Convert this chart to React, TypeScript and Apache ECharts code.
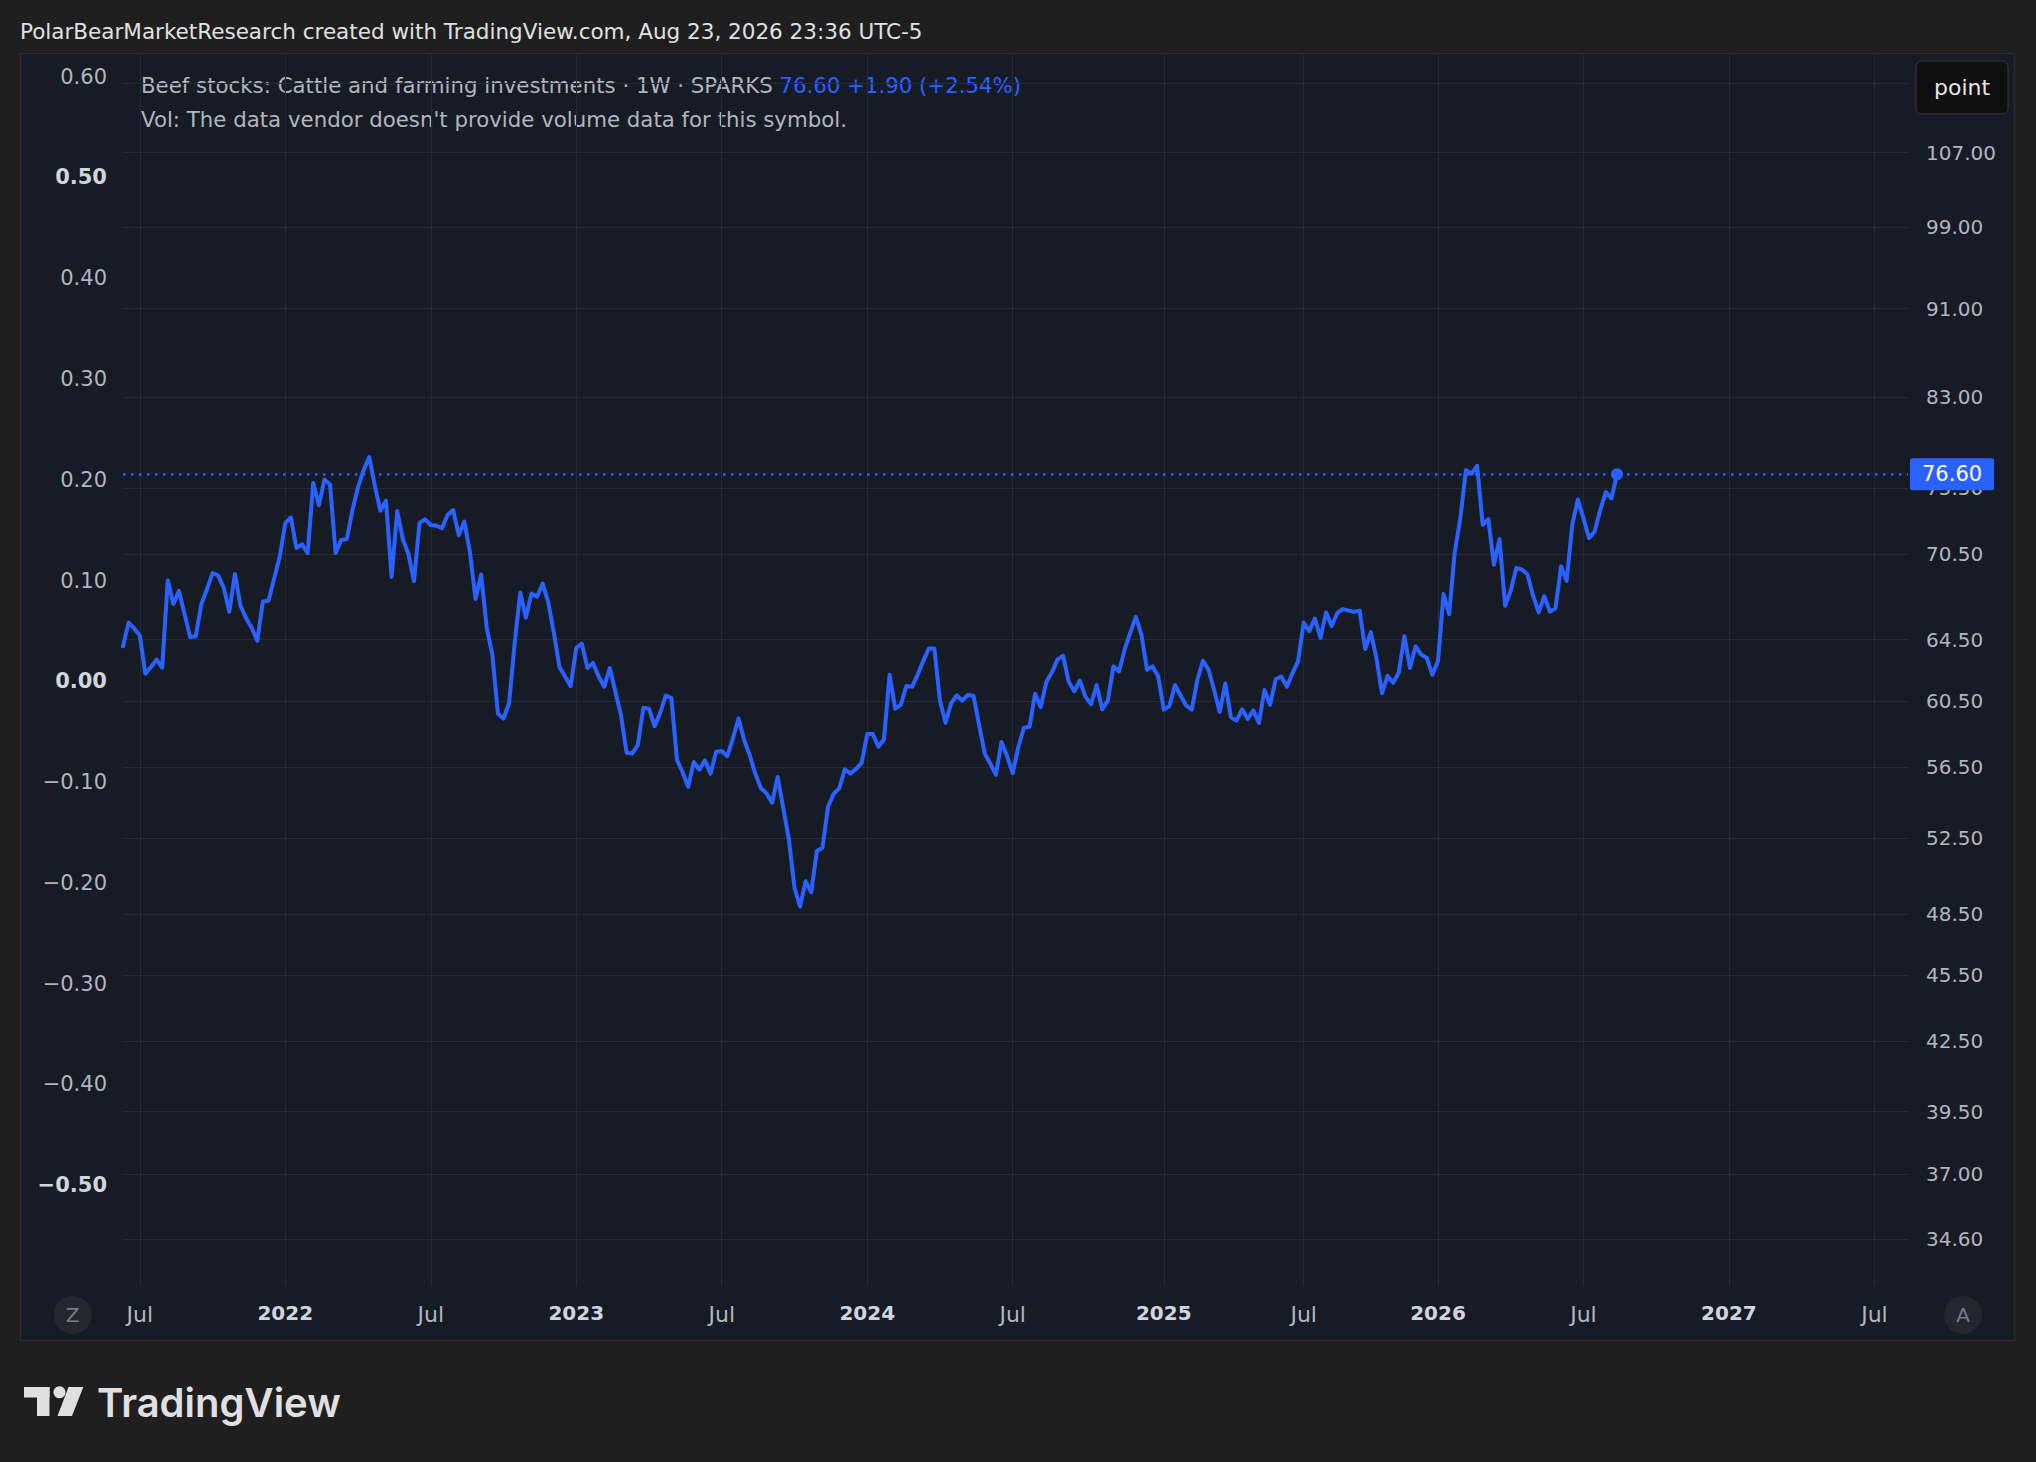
import React, { useEffect, useRef } from "react";
import * as echarts from "echarts";

// ---------- texts ----------
const HEADER = "PolarBearMarketResearch created with TradingView.com, Aug 23, 2026 23:36 UTC-5";
const TITLE = "Beef stocks: Cattle and farming investments · 1W · SPARKS";
const LAST_PRICE = "76.60";
const CHANGE = "+1.90 (+2.54%)";
const VOL_NOTE = "Vol: The data vendor doesn't provide volume data for this symbol.";

// ---------- time axis (weekly bars, TradingView style) ----------
const FIRST_WEEK = "2021-06-14";
const WEEK_COUNT = 320; // data bars + future bars shown to the right edge
const MISSING_WEEKS = ["2025-04-21", "2025-10-13", "2025-11-24"];

// ---------- weekly closes ----------
const prices = [
  64.06, 65.66, 65.26, 64.78, 62.26, 62.7, 63.18, 62.65, 68.62, 66.93,
  67.86, 66.24, 64.68, 64.73, 66.93, 67.97, 69.13, 68.95, 68.09, 66.4,
  69.06, 66.82, 65.96, 65.31, 64.43, 67.12, 67.16, 68.72, 70.29, 72.8,
  73.25, 70.95, 71.23, 70.58, 75.92, 74.19, 76.18, 75.79, 70.58, 71.54,
  71.61, 73.81, 75.58, 76.94, 77.99, 75.7, 73.76, 74.52, 68.85, 73.73,
  71.61, 70.53, 68.55, 72.85, 73.1, 72.67, 72.62, 72.42, 73.43, 73.81,
  71.91, 72.92, 70.65, 67.28, 69.02, 65.31, 63.51, 59.73, 59.43, 60.38,
  64.28, 67.74, 66.0, 67.67, 67.44, 68.37, 67.05, 64.96, 62.7, 62.08,
  61.46, 63.95, 64.24, 62.63, 62.96, 62.08, 61.42, 62.63, 61.09, 59.63,
  57.35, 57.31, 57.81, 60.1, 60.04, 58.96, 59.77, 60.87, 60.7, 56.94,
  56.2, 55.36, 56.8, 56.35, 56.9, 56.12, 57.41, 57.45, 57.15, 58.22,
  59.43, 58.12, 57.21, 56.12, 55.27, 54.98, 54.45, 55.93, 54.13, 52.43,
  49.83, 48.88, 50.18, 49.61, 51.79, 51.96, 54.22, 54.95, 55.27, 56.37,
  56.12, 56.4, 56.74, 58.48, 58.48, 57.71, 58.16, 62.19, 60.04, 60.28,
  61.47, 61.42, 62.19, 63.07, 63.91, 63.91, 60.54, 59.17, 60.38, 60.87,
  60.54, 60.9, 60.85, 59.03, 57.31, 56.7, 56.06, 58.0, 57.15, 56.15,
  57.68, 58.86, 58.92, 60.98, 60.14, 61.71, 62.35, 63.18, 63.44, 61.75,
  61.14, 61.82, 60.8, 60.32, 61.53, 60.0, 60.54, 62.74, 62.41, 63.84,
  64.96, 66.05, 64.85, 62.52, 62.74, 62.08, 59.98, 60.2, 61.53, 60.87,
  60.24, 59.98, 61.86, 63.11, 62.52, 61.2, 59.84, 61.64, 59.5, 59.3,
  60.0, 59.4, 59.93, 59.16, 61.21, 60.28, 61.9, 62.08, 61.42, 62.3,
  63.07, 65.66, 65.08, 65.94, 64.62, 66.36, 65.43, 66.31, 66.59, 66.48,
  66.41, 66.48, 63.88, 65.01, 63.29, 61.02, 62.12, 61.68, 62.34, 64.73,
  62.63, 64.06, 63.51, 63.29, 62.19, 63.07, 67.64, 66.24, 70.66, 73.19,
  76.94, 76.63, 77.28, 72.69, 73.11, 69.73, 71.61, 66.82, 67.87, 69.5,
  69.38, 69.03, 67.52, 66.36, 67.48, 66.41, 66.64, 69.62, 68.57, 72.69,
  74.62, 73.19, 71.68, 72.18, 73.81, 75.2, 74.7, 76.6,
];

// ---------- price scale (right, logarithmic) ----------
const rightTicks = [115, 107, 99, 91, 83, 75.5, 70.5, 64.5, 60.5, 56.5, 52.5, 48.5, 45.5, 42.5, 39.5, 37, 34.6];
const hiddenRightTicks = [115];
const RIGHT_MIN = 32.95;
const RIGHT_MAX = 118.5;

// ---------- empty left scale ----------
const LEFT_MIN = -0.6;
const LEFT_MAX = 0.622;
const LEFT_STEP = 0.1;
const leftShownRange = [-0.5, 0.6];
const boldLeft = [0.5, 0, -0.5];

const FONT = '"DejaVu Sans", "Noto Sans", sans-serif';
const GRID_COLOR = "#262a35";
const AXIS_TEXT = "#b2b5be";
const BLUE = "#2962ff";

function buildWeeks(): string[] {
  const out: string[] = [];
  const [y, m, d] = FIRST_WEEK.split("-").map(Number);
  const cur = new Date(Date.UTC(y, m - 1, d));
  while (out.length < WEEK_COUNT) {
    const s = cur.toISOString().slice(0, 10);
    if (!MISSING_WEEKS.includes(s)) out.push(s);
    cur.setUTCDate(cur.getUTCDate() + 7);
  }
  return out;
}

export default function App() {
  const ref = useRef<HTMLDivElement>(null);

  useEffect(() => {
    if (!ref.current) return;
    const chart = echarts.init(ref.current, undefined, { renderer: "svg" });
    const weeks = buildWeeks();
    const isPeriodStart = (i: number) => {
      const mo = weeks[i].slice(5, 7);
      if (mo !== "01" && mo !== "07") return false;
      return i > 0 && weeks[i - 1].slice(5, 7) !== mo;
    };
    const last = prices.length - 1;
    const lastValue = prices[last];

    const option: any = {
      animation: false,
      backgroundColor: "transparent",
      textStyle: { fontFamily: FONT },
      grid: { left: 123, right: 128, top: 54.5, bottom: 176, containLabel: false },
      xAxis: {
        type: "category",
        data: weeks,
        boundaryGap: false,
        axisLine: { show: false },
        axisTick: { show: false },
        axisLabel: {
          interval: (i: number) => isPeriodStart(i),
          formatter: (v: string) => (v.slice(5, 7) === "01" ? `{y|${v.slice(0, 4)}}` : "Jul"),
          color: AXIS_TEXT,
          fontSize: 22,
          fontFamily: FONT,
          margin: 17,
          rich: { y: { fontSize: 20, fontWeight: "bold", color: "#d1d4dc", fontFamily: FONT } },
        },
        splitLine: {
          show: true,
          interval: (i: number) => isPeriodStart(i),
          lineStyle: { color: GRID_COLOR, width: 1 },
        },
      },
      yAxis: [
        {
          type: "value",
          position: "left",
          min: LEFT_MIN,
          max: LEFT_MAX,
          interval: LEFT_STEP,
          axisLine: { show: false },
          axisTick: { show: false },
          splitLine: { show: false },
          axisLabel: {
            margin: 16,
            color: AXIS_TEXT,
            fontSize: 21,
            fontFamily: FONT,
            formatter: (v: number) => {
              const r = Math.round(v * 10) / 10;
              if (Math.abs(v - r) > 0.001) return "";
              if (r < leftShownRange[0] - 0.001 || r > leftShownRange[1] + 0.001) return "";
              let s = Math.abs(r).toFixed(2);
              if (r < 0) s = "\u2212" + s;
              return boldLeft.some((b) => Math.abs(b - r) < 0.001) ? `{b|${s}}` : s;
            },
            rich: { b: { fontWeight: "bold", color: "#d1d4dc", fontSize: 21, fontFamily: FONT } },
          },
        },
        {
          type: "log",
          logBase: 10,
          position: "right",
          min: RIGHT_MIN,
          max: RIGHT_MAX,
          axisLine: { show: false },
          axisTick: { show: false },
          splitLine: { show: false },
          axisLabel: { show: false },
        },
      ],
      series: [
        {
          // carrier of the price-scale grid lines and labels
          type: "line",
          yAxisIndex: 1,
          data: prices,
          symbol: "none",
          lineStyle: { opacity: 0, width: 0 },
          silent: true,
          z: 1,
          markLine: {
            z: 1,
            silent: true,
            symbol: ["none", "none"],
            animation: false,
            lineStyle: { color: GRID_COLOR, width: 1, type: "solid" },
            label: {
              show: true,
              position: "end",
              distance: 18,
              color: AXIS_TEXT,
              fontSize: 20,
              fontFamily: FONT,
              formatter: (p: any) => Number(p.value).toFixed(2),
            },
            emphasis: { disabled: true },
            data: rightTicks.map((v) =>
              hiddenRightTicks.includes(v) ? { yAxis: v, label: { show: false } } : { yAxis: v }
            ),
          },
        },
        {
          name: "SPARKS",
          type: "line",
          yAxisIndex: 1,
          z: 3,
          data: prices.map((v, i) =>
            i === last ? { value: v, symbol: "circle", symbolSize: 12 } : v
          ),
          symbol: "none",
          showSymbol: true,
          showAllSymbol: true,
          lineStyle: { color: BLUE, width: 4, join: "round", cap: "round" },
          itemStyle: { color: BLUE },
          emphasis: { disabled: true },
          markLine: {
            silent: true,
            symbol: ["none", "none"],
            animation: false,
            lineStyle: { color: BLUE, width: 2.5, type: [2.5, 5.5] },
            label: {
              show: true,
              position: "end",
              distance: 2,
              formatter: LAST_PRICE,
              color: "#ffffff",
              fontSize: 21,
              fontFamily: FONT,
              backgroundColor: BLUE,
              borderRadius: 2,
              padding: [6, 12, 5, 12],
            },
            emphasis: { disabled: true },
            data: [
              [
                { coord: [weeks[0], lastValue] },
                { coord: [weeks[weeks.length - 1], lastValue] },
              ],
            ],
          },
        },
      ],
      graphic: [
        {
          type: "text",
          x: 20,
          y: 31,
          style: { text: HEADER, fill: "#e0e0e0", fontSize: 21.5, fontFamily: FONT, verticalAlign: "middle" },
        },
        {
          type: "text",
          x: 141,
          y: 85,
          style: {
            text: `{a|${TITLE}}  {b|${LAST_PRICE}}  {b|${CHANGE}}`,
            verticalAlign: "middle",
            rich: {
              a: { fill: AXIS_TEXT, fontSize: 21.3, fontFamily: FONT },
              b: { fill: BLUE, fontSize: 21.3, fontFamily: FONT },
            },
          },
        },
        {
          type: "text",
          x: 141,
          y: 119,
          style: { text: VOL_NOTE, fill: AXIS_TEXT, fontSize: 21.3, fontFamily: FONT, verticalAlign: "middle" },
        },
        {
          type: "rect",
          shape: { x: 1916, y: 61, width: 92, height: 53, r: 6 },
          style: { fill: "#0f0f0f", stroke: "#3a3a3a", lineWidth: 1 },
          z: 50,
        },
        {
          type: "text",
          x: 1962,
          y: 87.5,
          z: 51,
          style: { text: "point", fill: "#e6e6e6", fontSize: 22, fontFamily: FONT, align: "center", verticalAlign: "middle" },
        },
        {
          type: "circle",
          shape: { cx: 72.7, cy: 1315, r: 19 },
          style: { fill: "#24272f" },
        },
        {
          type: "text",
          x: 72.7,
          y: 1315,
          style: { text: "Z", fill: "#787b86", fontSize: 20, fontFamily: FONT, align: "center", verticalAlign: "middle" },
        },
        {
          type: "circle",
          shape: { cx: 1963, cy: 1315, r: 19 },
          style: { fill: "#24272f" },
        },
        {
          type: "text",
          x: 1963,
          y: 1315,
          style: { text: "A", fill: "#787b86", fontSize: 20, fontFamily: FONT, align: "center", verticalAlign: "middle" },
        },
        // TradingView logo
        { type: "rect", shape: { x: 24, y: 1387, width: 25.5, height: 10.5 }, style: { fill: "#e0e0e0" } },
        { type: "rect", shape: { x: 37, y: 1387, width: 12.5, height: 29 }, style: { fill: "#e0e0e0" } },
        { type: "circle", shape: { cx: 59.5, cy: 1392.2, r: 6 }, style: { fill: "#e0e0e0" } },
        {
          type: "polygon",
          shape: { points: [[68.5, 1387], [83.3, 1387], [72, 1416], [57.5, 1416]] },
          style: { fill: "#e0e0e0" },
        },
        {
          type: "text",
          x: 97,
          y: 1402,
          style: {
            text: "TradingView",
            fill: "#e0e0e0",
            fontSize: 40,
            fontWeight: 600,
            fontFamily: "Inter, sans-serif",
            verticalAlign: "middle",
          },
        },
      ],
    };

    chart.setOption(option);
    return () => chart.dispose();
  }, []);

  return (
    <div style={{ position: "fixed", left: 0, top: 0, width: 2036, height: 1462, background: "#1f1f1f", overflow: "hidden" }}>
      <div
        style={{
          position: "absolute",
          left: 19.5,
          top: 53,
          width: 1995,
          height: 1288,
          background: "#171b26",
          border: "1px solid #2e2e2e",
          boxSizing: "border-box",
        }}
      />
      <div ref={ref} style={{ position: "absolute", left: 0, top: 0, width: 2036, height: 1462 }} />
    </div>
  );
}
